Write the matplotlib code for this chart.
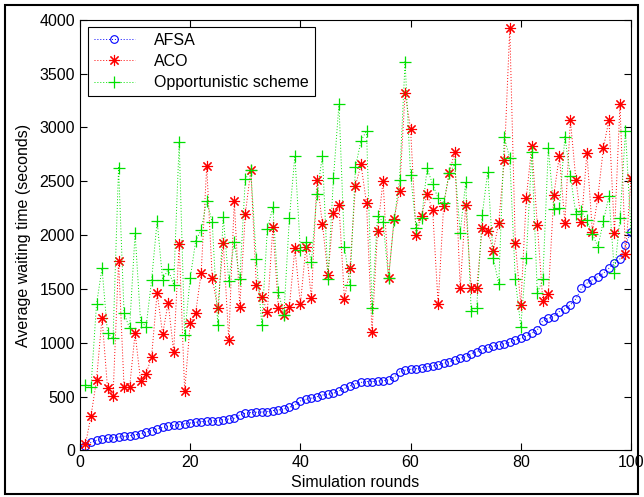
import matplotlib
matplotlib.use('Agg')
import matplotlib.pyplot as plt
from matplotlib.patches import Rectangle

plt.rcParams['font.family'] = ['Liberation Sans', 'DejaVu Sans']
plt.rcParams['font.size'] = 11.5

# rodadas de simulacao
rounds = list(range(1, 101))

# AFSA (circulos azuis)
afsa = [40, 75, 95, 105, 112, 118, 125, 130, 138, 145,
        155, 170, 185, 200, 215, 225, 232, 240, 248, 255,
        262, 268, 272, 275, 278, 285, 292, 299, 330, 345,
        352, 355, 357, 361, 371, 376, 385, 401, 422, 460,
        475, 485, 500, 515, 522, 531, 552, 577, 600, 620,
        632, 640, 640, 645, 648, 655, 680, 730, 745, 754,
        758, 770, 778, 785, 794, 809, 825, 840, 856, 871,
        900, 918, 940, 955, 968, 978, 990, 1005, 1025, 1040,
        1062, 1089, 1120, 1206, 1228, 1243, 1290, 1315, 1352, 1408,
        1506, 1553, 1584, 1615, 1646, 1692, 1738, 1779, 1909, 2032]

# ACO (asteriscos vermelhos)
aco = [60, 320, 656, 1234, 578, 507, 1760, 585, 585, 1089,
       647, 712, 872, 1466, 1080, 1373, 919, 1921, 548, 1180,
       1281, 1652, 2642, 1599, 1321, 1930, 1027, 2317, 1336, 2193,
       2605, 1537, 1429, 1290, 2072, 1327, 1259, 1336, 1877, 1358,
       1893, 1413, 2512, 2104, 1630, 2209, 2280, 1404, 1692, 2459,
       2657, 2295, 1098, 2042, 2503, 1599, 2147, 2413, 3316, 2985,
       2001, 2181, 2379, 2233, 1358, 2274, 2574, 2769, 1507, 2280,
       1507, 1507, 2070, 2042, 1853, 2116, 2697, 3919, 1930, 1349,
       2348, 2827, 2094, 1389, 1451, 2373, 2738, 2110, 3069, 2512,
       2119, 2765, 2026, 2357, 2812, 3069, 2017, 3214, 1822, 2527]

# esquema oportunista (cruzes verdes)
opp = [610, 594, 1358, 1692, 1089, 1042, 2626, 1274, 1135, 2017,
       1197, 1151, 1584, 2131, 1584, 1683, 1537, 2861, 1073, 1599,
       1946, 2048, 2320, 2119, 1166, 2165, 1575, 1940, 1590, 2518,
       2605, 1779, 1166, 2057, 2258, 1476, 1259, 2156, 2738, 1860,
       1940, 1754, 2379, 2738, 1590, 2527, 3217, 1893, 1537, 2636,
       2874, 2970, 1321, 2178, 2125, 1599, 2138, 2512, 3610, 2558,
       2070, 2156, 2620, 2472, 2342, 2295, 2574, 2657, 2023, 2490,
       1296, 1327, 2187, 2589, 1791, 1543, 2908, 2713, 1590, 1151,
       1791, 2769, 1460, 1590, 2805, 2240, 2248, 2914, 2552, 2193,
       2220, 2138, 2008, 1893, 2130, 2363, 1646, 2156, 2967, 2030]

fig = plt.figure(figsize=(6.44, 4.97), dpi=100)
ax = fig.add_axes([0.1242, 0.0936, 0.8556, 0.8668])

dots = (0, (1, 2))
ax.plot(rounds, afsa, linestyle=dots, linewidth=0.7, color='blue', marker='o',
        markersize=5.5, markerfacecolor='none', markeredgewidth=0.8, label='AFSA')
ax.plot(rounds, aco, linestyle=dots, linewidth=0.7, color='red', marker=(8, 2, 0),
        markersize=8, markeredgewidth=0.8, label='ACO')
ax.plot(rounds, opp, linestyle=dots, linewidth=0.7, color='#00e000', marker='+',
        markersize=9, markeredgewidth=0.9, label='Opportunistic scheme')

ax.set_xlim(0, 100)
ax.set_ylim(0, 4000)
ax.set_xticks(range(0, 101, 20))
ax.set_yticks(range(0, 4001, 500))
ax.tick_params(direction='in', top=True, right=True, length=5, width=0.8)
for s in ax.spines.values():
    s.set_linewidth(0.8)

ax.set_xlabel('Simulation rounds', labelpad=3)
ax.set_ylabel('Average waiting time (seconds)', labelpad=6)

leg = ax.legend(loc='upper left', bbox_to_anchor=(0.0145, 0.983), borderaxespad=0,
                fancybox=False, edgecolor='black', framealpha=1, handlelength=2.6,
                handletextpad=1.2, labelspacing=0.4, borderpad=0.35)
leg.get_frame().set_linewidth(0.8)

# moldura da figura
fig.patches.append(Rectangle((0.008, 0.006), 0.983, 0.984, transform=fig.transFigure,
                             fill=False, edgecolor='black', linewidth=1.5))

plt.savefig('out.png', dpi=100)
